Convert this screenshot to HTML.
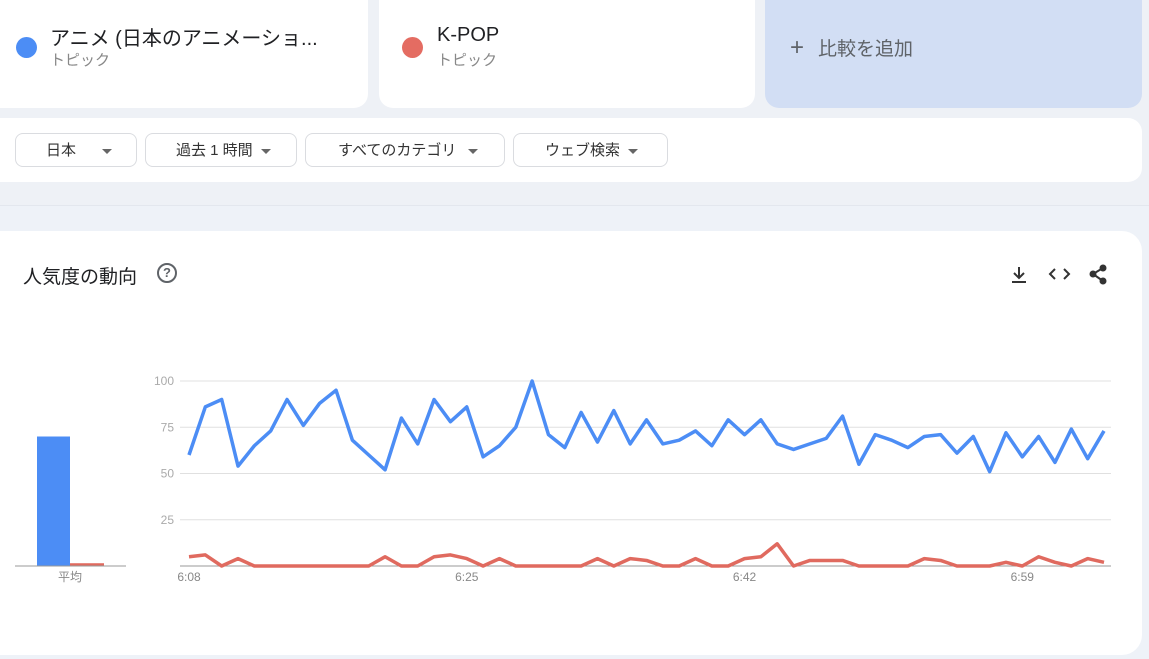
<!DOCTYPE html>
<html><head><meta charset="utf-8"><style>
body{margin:0;width:1149px;height:659px;background:#eef2f8;position:relative;overflow:hidden;font-family:"Liberation Sans","Noto Sans CJK JP",sans-serif}
.abs{position:absolute}
.card{background:#fff;border-radius:14px}
.pill{position:absolute;top:133px;height:34px;border:1px solid #dadce0;border-radius:8px;background:#fff;font-size:15px;color:#333;line-height:34px;box-sizing:border-box}
.tri{display:inline-block;width:0;height:0;border-left:5px solid transparent;border-right:5px solid transparent;border-top:5px solid #666;vertical-align:middle;margin-left:8px}
</style></head><body>
<div class="abs" style="left:0;top:0;width:1149px;height:206px;background:#eef1f6"></div>
<div class="abs card" style="left:-20px;top:-20px;width:388px;height:128px"></div>
<div class="abs" style="left:16px;top:37px;width:21px;height:21px;border-radius:50%;background:#4c8df5"></div>
<div class="abs" style="left:50px;top:22px;font-size:20px;color:#202124">アニメ (日本のアニメーショ...</div>
<div class="abs" style="left:50px;top:49px;font-size:15px;color:#888">トピック</div>
<div class="abs card" style="left:379px;top:-20px;width:376px;height:128px"></div>
<div class="abs" style="left:402px;top:37px;width:21px;height:21px;border-radius:50%;background:#e46c62"></div>
<div class="abs" style="left:437px;top:24px;font-size:20px;color:#202124">K-POP</div>
<div class="abs" style="left:437px;top:49px;font-size:15px;color:#888">トピック</div>
<div class="abs" style="left:765px;top:-20px;width:377px;height:128px;border-radius:14px;background:#d2def4"></div>
<div class="abs" style="left:790px;top:34px;font-size:19px;color:#5f6368"><span style="font-size:24px;margin-right:14px">+</span>比較を追加</div>
<div class="abs card" style="left:-20px;top:118px;width:1162px;height:64px"></div>
<div class="pill" style="left:15px;width:122px;padding-left:30px">日本<span class="tri" style="margin-left:26px"></span></div>
<div class="pill" style="left:145px;width:152px;padding-left:30px">過去 1 時間<span class="tri"></span></div>
<div class="pill" style="left:305px;width:200px;padding-left:32px">すべてのカテゴリ<span class="tri" style="margin-left:12px"></span></div>
<div class="pill" style="left:513px;width:155px;padding-left:31px">ウェブ検索<span class="tri"></span></div>
<div class="abs" style="left:0;top:205px;width:1149px;height:1px;background:#e3e7ee"></div>
<div class="abs card" style="left:-20px;top:231px;width:1162px;height:424px;border-radius:20px"></div>
<div class="abs" style="left:23px;top:262px;font-size:19px;color:#202124">人気度の動向</div>
<div class="abs" style="left:157px;top:263px;width:16px;height:16px;border:2px solid #5f6368;border-radius:50%;font-size:13px;font-weight:bold;color:#5f6368;text-align:center;line-height:16px">?</div>
<svg class="abs" style="left:1008px;top:263px" width="105" height="24">
<g stroke="#333" stroke-width="2" fill="none"><path d="M11 4v11M6 10l5 5 5-5M4 19h14"/></g>
<g stroke="#333" stroke-width="2" fill="none"><path d="M47 6l-5 5 5 5M56 6l5 5-5 5"/></g>
<g stroke="#333" stroke-width="2" fill="#333"><path d="M85 11l10-6M85 11l10 7"/><circle cx="85" cy="11" r="2.5"/><circle cx="95" cy="5" r="2.5"/><circle cx="95" cy="18" r="2.5"/></g>
</svg>
<svg id="chart" class="abs" style="left:0;top:0" width="1149" height="659"></svg>
<script>
const blue=[60,86,90,54,65,73,90,76,88,95,68,60,52,80,66,90,78,86,59,65,75,100,71,64,83,67,84,66,79,66,68,73,65,79,71,79,66,63,66,69,81,55,71,68,64,70,71,61,70,51,72,59,70,56,74,58,73];
const red=[5,6,0,4,0,0,0,0,0,0,0,0,5,0,0,5,6,4,0,4,0,0,0,0,0,4,0,4,3,0,0,4,0,0,4,5,12,0,3,3,3,0,0,0,0,4,3,0,0,0,2,0,5,2,0,4,2];
const avgValues=[70,1.5];
const yTicks=[25,50,75,100];
const xTickLabels=["6:08","6:25","6:42","6:59"];
const xTickIdx=[0,17,34,51];
const svg=document.getElementById('chart');const NS='http://www.w3.org/2000/svg';
const x=i=>189+i*(1104-189)/56, y=v=>566-v*1.85;
function mk(t,a){const e=document.createElementNS(NS,t);for(const k in a)e.setAttribute(k,a[k]);svg.appendChild(e);return e;}
yTicks.forEach(t=>{const l=mk('line',{x1:180,x2:1111,y1:y(t),y2:y(t),stroke:'#e0e0e0'});


const tx=mk('text',{x:174,y:y(t)+4,'text-anchor':'end','font-size':12,fill:'#aaa','font-family':'Liberation Sans'});tx.textContent=t;

});
const ax=mk('line',{x1:180,x2:1111,y1:566,y2:566,stroke:'#999'});


xTickLabels.forEach((s,k)=>{const tx=mk('text',{x:x(xTickIdx[k]),y:581,'text-anchor':'middle','font-size':12,fill:'#888','font-family':'Liberation Sans'});tx.textContent=s;

});
[[red,'#e06a5f','kpop-line'],[blue,'#4c8df5','anime-line']].forEach(([d,c,n])=>{const p=mk('polyline',{points:d.map((v,i)=>x(i)+','+y(v)).join(' '),fill:'none',stroke:c,'stroke-width':3.5,'stroke-linejoin':'round'});

});
const b1=mk('rect',{x:37,y:y(avgValues[0]),width:33,height:566-y(avgValues[0]),fill:'#4c8df5'});


const b2=mk('rect',{x:70,y:y(avgValues[1]),width:34,height:566-y(avgValues[1]),fill:'#e06a5f'});


const bl=mk('line',{x1:15,x2:126,y1:566,y2:566,stroke:'#999'});


const at=mk('text',{x:70,y:581,'text-anchor':'middle','font-size':12,fill:'#888','font-family':'Liberation Sans, Noto Sans CJK JP, sans-serif'});at.textContent='平均';


</script>
</body></html>
